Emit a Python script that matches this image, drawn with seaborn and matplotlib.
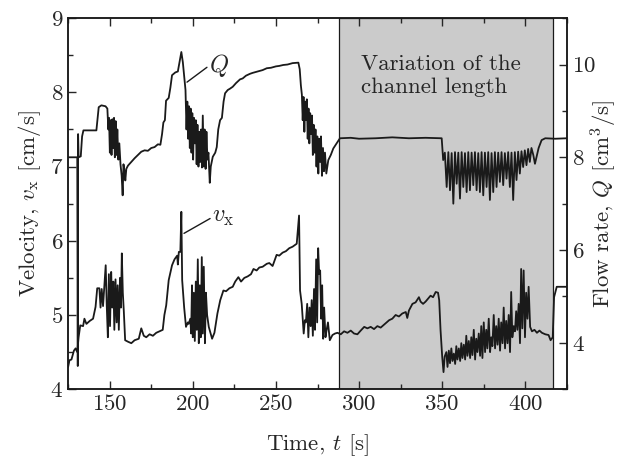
import matplotlib
matplotlib.use("Agg")
import matplotlib.pyplot as plt
import seaborn as sns
from matplotlib.ticker import MultipleLocator

sns.set_theme(style="ticks")
plt.rcParams['font.family'] = 'serif'
plt.rcParams['font.serif'] = ['cmr10', 'DejaVu Serif']
plt.rcParams['mathtext.fontset'] = 'cm'
plt.rcParams['axes.formatter.use_mathtext'] = True
plt.rcParams['axes.unicode_minus'] = False

# flow rate Q [cm^3/s]
q_t = [125.0, 130.5, 130.8, 131.0, 131.3, 132.6, 133.4, 134.2, 142.0, 142.6,
       143.4, 145.0, 147.5, 148.6, 149.2,
       149.6, 150.1, 150.6, 151.1, 151.6, 152.1, 152.6, 153.1, 153.6, 154.1,
       154.6, 155.2, 155.8, 156.5, 157.2, 157.8, 158.3, 158.9, 159.4, 160.0,
       161.0, 163.0, 165.0, 167.0, 169.0, 171.0, 173.0, 175.0, 177.0, 179.0,
       180.5, 181.5, 182.3, 183.2, 183.9, 185.5, 186.5, 187.5, 189.5, 191.0,
       192.0, 193.1, 194.0, 194.8, 195.6,
       196.2, 196.7, 197.2, 197.7, 198.2, 198.7, 199.2, 199.7, 200.2, 200.7,
       201.3, 201.8, 202.3, 202.8, 203.4, 203.9, 204.5, 205.0, 205.5, 206.0,
       206.6, 207.1, 207.7, 208.2, 208.8, 209.4, 210.2, 210.8, 212.0, 213.5,
       214.4, 215.3, 216.4, 217.5, 218.5, 219.4, 221.0, 222.4, 224.0, 226.0,
       228.4, 230.0, 232.0, 234.4, 236.0, 238.0, 240.0, 242.0, 244.5, 247.0,
       250.0, 252.0, 254.4, 257.0, 260.0, 263.5, 264.3, 265.0,
       265.6, 266.1, 266.6, 267.1, 267.6, 268.1, 268.6, 269.1, 269.6, 270.1,
       270.6, 271.2, 271.7, 272.2, 272.7, 273.3, 273.8, 274.4, 274.9, 275.5,
       276.0, 276.6, 277.1, 277.7, 278.3, 278.9, 279.5, 280.3, 281.5, 283.0,
       284.5, 286.5, 288.5, 295.0, 300.0, 310.0, 320.0, 330.0, 340.0, 349.7,
       350.6,
       351.6, 352.7, 353.7, 354.7, 355.7, 356.7, 357.7, 358.7, 359.7, 360.7,
       361.7, 362.7, 363.7, 364.7, 365.7, 366.7, 367.7, 368.7, 369.7, 370.7,
       371.7, 372.7, 373.7, 374.7, 375.7, 376.7, 377.7, 378.7, 379.7, 380.7,
       381.7, 382.7, 383.7, 384.7, 385.7, 386.7, 387.7, 388.7, 389.7, 390.7,
       391.7, 392.7, 393.7, 394.7, 395.7, 396.7, 397.7, 398.7, 399.7, 400.7,
       401.7, 402.7, 403.7,
       404.8, 405.8, 408.0, 409.8, 412.0, 418.0, 425.0]
q_val = [8.00, 8.00, 3.50, 8.50, 8.00, 8.02, 8.45, 8.58, 8.58, 8.80,
         9.08, 9.12, 9.10, 9.05, 8.60,
         8.85, 8.10, 8.80, 8.05, 8.82, 8.20, 8.85, 8.00, 8.78, 8.05,
         8.60, 7.95, 8.30, 7.85, 7.60, 7.18, 7.85, 7.70, 7.50, 7.75,
         7.82, 7.90, 7.98, 8.05, 8.12, 8.15, 8.14, 8.20, 8.22, 8.28,
         8.27, 8.50, 8.75, 8.80, 9.22, 9.28, 9.50, 9.77, 9.83, 9.85,
         10.05, 10.27, 10.05, 9.75, 9.45,
         8.60, 9.20, 8.40, 9.10, 8.20, 9.05, 8.10, 8.95, 7.95, 8.85,
         8.30, 8.80, 7.85, 8.70, 7.80, 8.55, 7.90, 8.60, 7.78, 8.90,
         7.80, 8.60, 7.75, 8.55, 7.95, 8.10, 7.45, 7.80, 8.01, 8.10,
         8.22, 8.60, 8.80, 8.85, 9.20, 9.38, 9.45, 9.48, 9.52, 9.60,
         9.68, 9.70, 9.76, 9.80, 9.82, 9.84, 9.86, 9.88, 9.92, 9.93,
         9.96, 9.97, 9.99, 10.00, 10.03, 10.04, 9.90, 9.55,
         9.35, 8.80, 9.30, 8.55, 9.20, 8.80, 9.25, 8.40, 9.05, 8.30,
         8.95, 8.50, 8.90, 8.05, 8.70, 8.10, 8.60, 7.80, 8.45, 7.65,
         8.40, 7.90, 8.45, 7.60, 8.20, 7.70, 8.10, 7.65, 7.94, 8.05,
         8.19, 8.30, 8.41, 8.42, 8.40, 8.41, 8.43, 8.41, 8.42, 8.41,
         7.94,
         8.10, 7.36, 8.11, 7.29, 8.09, 7.00, 8.11, 7.43, 8.10, 7.11,
         8.11, 7.36, 8.09, 7.25, 8.11, 7.29, 8.10, 7.40, 8.11, 7.29,
         8.09, 7.25, 8.11, 7.18, 8.10, 7.36, 8.11, 7.08, 8.09, 7.25,
         8.11, 7.36, 8.10, 7.47, 8.11, 7.40, 8.09, 7.54, 8.11, 7.36,
         8.10, 7.08, 8.11, 7.51, 8.12, 7.65, 8.13, 7.79, 8.15, 7.83,
         8.18, 7.90, 8.20,
         8.05, 7.86, 8.20, 8.37, 8.41, 8.40, 8.41]

# velocity v_x [cm/s]
vx_t = [125.0, 125.8, 127.0, 128.5, 129.5, 130.5, 131.3, 132.3, 134.0, 134.8,
        136.0, 138.0, 140.0, 141.5, 142.5,
        143.8, 144.5, 145.2, 146.0, 146.8, 147.6, 148.2, 148.9, 149.5, 150.2,
        150.9, 151.5, 152.2, 152.8, 153.5, 154.2, 154.8, 155.5, 156.2, 156.8,
        157.3, 157.9, 158.5, 159.3, 161.0, 163.0, 165.0, 167.5, 169.0, 170.5,
        172.0, 174.0, 176.0, 178.0, 180.0, 181.9, 182.9, 184.0, 185.5, 187.5,
        189.0, 190.6, 191.0, 191.6, 192.5, 193.1, 193.6, 194.8, 195.9, 197.0,
        197.5, 198.5, 199.0, 199.5, 200.0, 200.6, 201.2, 201.8, 202.4, 203.0,
        203.6, 204.2, 204.8, 205.4, 206.0, 206.6, 207.3, 207.9, 208.6, 209.6,
        210.6, 211.6, 213.0, 214.8, 216.5, 218.4, 220.0, 222.0, 224.0, 225.5,
        227.4, 229.0, 231.0, 233.0, 235.0, 236.5, 238.4, 240.0, 242.0, 244.5,
        246.0, 248.0, 250.4, 252.0, 254.0, 256.0, 258.0, 260.0, 262.5, 263.9,
        264.5, 265.5, 266.7, 267.4,
        268.0, 268.8, 269.5, 270.2, 270.9, 271.5, 272.2, 272.9, 273.5, 274.2,
        274.8, 275.4, 276.0, 276.6, 277.2, 277.8, 278.4, 279.0, 279.8, 280.5,
        281.3, 282.4, 284.0, 285.5, 287.0, 289.0, 291.0, 293.0, 295.0, 297.0,
        299.0, 301.0, 303.1, 305.0, 307.0, 309.0, 311.0, 313.0, 315.0, 318.1,
        320.0, 322.0, 324.0, 326.0, 328.1, 329.0, 330.0, 332.1, 334.0, 336.0,
        337.0, 338.5, 340.0, 341.5, 343.0, 344.5, 346.1, 347.5, 348.2, 349.0,
        350.0, 350.8, 351.5,
        352.5, 353.2, 354.0, 354.7, 355.5, 356.2, 357.0, 357.8, 358.5, 359.2,
        360.0, 360.8, 361.5, 362.2, 363.0, 363.8, 364.5, 365.2, 366.0, 366.8,
        367.5, 368.2, 369.0, 369.8, 370.5, 371.2, 372.0, 372.8, 373.5, 374.2,
        375.0, 375.8, 376.5, 377.2, 378.0, 378.8, 379.5, 380.2, 381.0, 381.8,
        382.5, 383.3, 384.0, 384.8, 385.5, 386.3, 387.0, 387.8, 388.5, 389.3,
        390.0, 390.8, 391.5, 392.2, 393.0, 393.8, 394.5, 395.2, 396.0, 396.8,
        397.5, 398.2, 399.0, 399.8, 400.5, 401.3, 402.0, 402.9,
        404.0, 405.5, 407.0, 408.5, 410.0, 412.0, 414.0, 415.2, 416.5, 417.3,
        418.9, 425.0]
vx_val = [4.30, 4.39, 4.40, 4.52, 4.55, 4.50, 4.70, 4.86, 4.85, 4.95,
          4.88, 4.92, 4.95, 5.11, 5.36,
          5.36, 5.10, 5.35, 5.12, 5.40, 5.67, 5.15, 4.70, 5.55, 4.85,
          5.58, 5.10, 5.45, 4.80, 5.48, 4.90, 5.40, 4.80, 5.50, 5.10,
          5.83, 5.30, 5.05, 4.66, 4.64, 4.62, 4.66, 4.68, 4.82, 4.72,
          4.70, 4.74, 4.72, 4.76, 4.78, 4.80, 5.00, 5.13, 5.47, 5.67,
          5.75, 5.80, 5.68, 5.85, 5.85, 6.39, 5.47, 5.10, 4.84, 4.90,
          4.88, 4.95, 4.75, 5.40, 4.70, 5.30, 4.65, 5.45, 4.80, 5.75,
          4.62, 5.40, 4.70, 5.78, 4.75, 5.65, 4.62, 5.30, 5.00, 4.84,
          4.76, 4.68, 4.76, 5.02, 5.20, 5.33, 5.32, 5.36, 5.38, 5.45,
          5.51, 5.45, 5.50, 5.52, 5.55, 5.62, 5.60, 5.64, 5.65, 5.69,
          5.70, 5.66, 5.81, 5.80, 5.84, 5.86, 5.90, 5.92, 5.96, 6.34,
          5.33, 5.15, 4.75, 4.93,
          4.90, 5.15, 4.70, 5.10, 4.85, 5.20, 4.72, 5.35, 4.80, 5.75,
          4.90, 5.90, 5.55, 5.60, 4.95, 5.40, 4.68, 5.10, 4.70, 4.80,
          4.90, 4.66, 4.73, 4.75, 4.76, 4.74, 4.78, 4.76, 4.79, 4.75,
          4.74, 4.79, 4.84, 4.82, 4.84, 4.81, 4.85, 4.83, 4.87, 4.93,
          4.95, 5.00, 4.98, 5.02, 5.04, 4.96, 5.06, 5.15, 5.17, 5.24,
          5.18, 5.15, 5.18, 5.22, 5.26, 5.24, 5.31, 5.30, 5.20, 4.80,
          4.44, 4.23, 4.44,
          4.50, 4.30, 4.52, 4.35, 4.55, 4.38, 4.48, 4.34, 4.58, 4.40,
          4.55, 4.38, 4.62, 4.42, 4.60, 4.40, 4.72, 4.45, 4.65, 4.42,
          4.70, 4.46, 4.80, 4.40, 4.68, 4.50, 4.75, 4.45, 4.85, 4.42,
          4.90, 4.50, 4.80, 4.55, 4.95, 4.50, 4.70, 4.58, 5.00, 4.55,
          4.85, 4.60, 4.95, 4.52, 4.90, 4.62, 5.10, 4.55, 4.92, 4.62,
          5.00, 4.50, 5.31, 4.70, 4.85, 4.78, 5.05, 4.80, 5.15, 4.62,
          5.62, 4.82, 5.60, 4.70, 5.30, 4.95, 5.38, 4.84,
          4.78, 4.80, 4.76, 4.79, 4.76, 4.74, 4.73, 4.66, 4.70, 5.24,
          5.38, 5.38]

span_t = (288.0, 416.8)
fs = 16.5

fig, ax = plt.subplots(figsize=(6.25, 4.65), dpi=100)
fig.subplots_adjust(left=0.109, right=0.907, bottom=0.163, top=0.961)
ax2 = ax.twinx()

ax.axvspan(*span_t, facecolor='#cbcbcb', edgecolor='k', lw=0.9, zorder=0)
sns.lineplot(x=vx_t, y=vx_val, ax=ax, color='k', lw=1.3, sort=False,
             estimator=None)
sns.lineplot(x=q_t, y=q_val, ax=ax2, color='k', lw=1.3, sort=False,
             estimator=None)

ax.set_xlim(125, 425)
ax.set_ylim(4, 9)
ax2.set_ylim(3, 11)

ax.xaxis.set_major_locator(MultipleLocator(50))
ax.xaxis.set_minor_locator(MultipleLocator(25))
ax.yaxis.set_major_locator(MultipleLocator(1))
ax.yaxis.set_minor_locator(MultipleLocator(0.5))
ax2.yaxis.set_major_locator(MultipleLocator(2))
ax2.yaxis.set_minor_locator(MultipleLocator(1))

ax.tick_params(which='both', direction='in', top=True, labelsize=fs)
ax.tick_params(which='major', length=6, width=1)
ax.tick_params(which='minor', length=3.5, width=1)
ax2.tick_params(which='both', direction='in', labelsize=fs)
ax2.tick_params(which='major', length=6, width=1)
ax2.tick_params(which='minor', length=3.5, width=1)
for a in (ax, ax2):
    for s in a.spines.values():
        s.set_linewidth(1.1)
        s.set_color('k')

ax.set_xlabel(r'Time, $t$ [s]', fontsize=fs, labelpad=13)
ax.set_ylabel(r'Velocity, $v_{\mathrm{x}}$ [cm/s]', fontsize=fs, labelpad=5)
ax2.set_ylabel(r'Flow rate, $Q$ [cm$^3$/s]', fontsize=fs, rotation=90)
ax2.yaxis.set_label_coords(1.044, 0.5)

ax.text(301, 8.22, 'Variation of the\nchannel length', fontsize=fs,
        ha='left', va='center', linespacing=1.25)

ax2.plot([196.5, 208.5], [9.62, 9.94], color='k', lw=1)
ax2.text(209.5, 9.98, r'$Q$', fontsize=fs + 1, ha='left', va='center')
ax.plot([194.7, 210.4], [6.10, 6.30], color='k', lw=1)
ax.text(211.5, 6.32, r'$v_{\mathrm{x}}$', fontsize=fs + 1, ha='left',
        va='center')

fig.savefig('out.png', dpi=100)
